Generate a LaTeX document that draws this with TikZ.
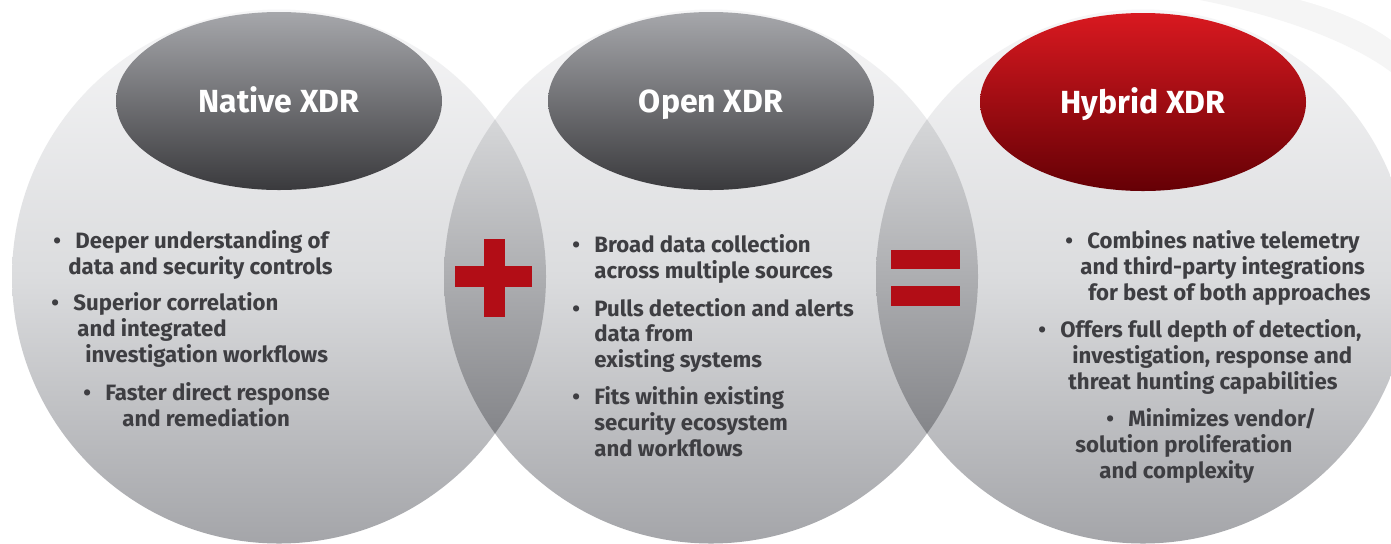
\documentclass[tikz,border=0pt]{standalone}
\usepackage{fontspec}
\setmainfont{Fira Sans}
\usetikzlibrary{shapes.geometric}

\definecolor{ringtop}{RGB}{246,246,247}
\definecolor{ringmid}{RGB}{219,220,222}
\definecolor{ringbot}{RGB}{164,165,169}
\definecolor{lenstop}{RGB}{214,215,217}
\definecolor{lensbot}{RGB}{132,133,137}
\definecolor{captop}{RGB}{166,167,171}
\definecolor{capbot}{RGB}{58,58,61}
\definecolor{hytop}{RGB}{217,25,32}
\definecolor{hybot}{RGB}{101,0,5}
\definecolor{signred}{RGB}{178,13,22}
\definecolor{txt}{RGB}{62,62,66}

\newcommand{\itembul}{\makebox[11pt][l]{•}}

\tikzset{
  ring/.style={top color=ringtop, bottom color=ringbot, middle color=ringmid},
  lens/.style={top color=lenstop, bottom color=lensbot},
  xdrcap/.style={ellipse, minimum width=163pt, minimum height=89pt, inner sep=0pt,
    text height=11.5pt, text depth=0.3pt,
    text=white, font=\bfseries\fontsize{16}{18}\selectfont},
  grey xdrcap/.style={xdrcap, top color=captop, bottom color=capbot},
  red xdrcap/.style={xdrcap, top color=hytop, bottom color=hybot},
  item/.style={anchor=base west, inner sep=0pt, text=txt,
    font=\bfseries\fontsize{11.1}{13}\selectfont},
  sign/.style={fill=signred}
}

\begin{document}
\begin{tikzpicture}[x=0.5pt,y=-0.5pt]
  \useasboundingbox (0,0) rectangle (1391,543);
  \fill[white] (0,0) rectangle (1391,543);
  \fill[gray!8] (1200,0) .. controls (1290,18) and (1355,45) .. (1391,72) -- (1391,0) -- cycle;
  \fill[white] (1300,0) .. controls (1345,12) and (1375,28) .. (1391,40) -- (1391,0) -- cycle;

  % the three rings
  \foreach \cx in {279,711,1143}
    \shade[ring] (\cx,276.5) circle (133.5pt);

  % overlaps
  \begin{scope}
    \clip (279,276.5) circle (133.5pt);
    \clip (711,276.5) circle (133.5pt);
    \shade[lens] (440,118) rectangle (550,435);
  \end{scope}
  \begin{scope}
    \clip (711,276.5) circle (133.5pt);
    \clip (1143,276.5) circle (133.5pt);
    \shade[lens] (872,118) rectangle (982,435);
  \end{scope}

  \node[grey xdrcap] (native) at (279,101) {Native XDR};
  \node[grey xdrcap] (open) at (711,101) {Open XDR};
  \node[red xdrcap] (hybrid) at (1143,102) {Hybrid XDR};

  % plus and equals
  \fill[sign] (484,239) rectangle (505,317);
  \fill[sign] (455,266) rectangle (532,287);
  \fill[sign] (891,250) rectangle (960,269);
  \fill[sign] (891,286) rectangle (960,306);

  \foreach \x/\y/\t [count=\i] in {
      53/248/{\itembul Deeper understanding of},
      68/274/{data and security controls},
      51/310/{\itembul Superior correlation},
      77/336/{and integrated},
      85/362/{investigation workflows},
      83/400/{\itembul Faster direct response},
      122/426/{and remediation}}
    \node[item] (nat\i) at (\x,\y) {\t};

  \foreach \x/\y/\t [count=\i] in {
      572/252/{\itembul Broad data collection},
      594/278/{across multiple sources},
      572/316/{\itembul Pulls detection and alerts},
      594/341/{data from},
      594/367/{existing systems},
      572/404/{\itembul Fits within existing},
      594/430/{security ecosystem},
      594/456/{and workflows}}
    \node[item] (opn\i) at (\x,\y) {\t};

  \foreach \x/\y/\t [count=\i] in {
      1065/248/{\itembul Combines native telemetry},
      1080/274/{and third-party integrations},
      1088/300/{for best of both approaches},
      1038/337/{\itembul Offers full depth of detection,},
      1072/363/{investigation, response and},
      1068/389/{threat hunting capabilities},
      1106/426/{\itembul Minimizes vendor/},
      1075/452/{solution proliferation},
      1099/478/{and complexity}}
    \node[item] (hyb\i) at (\x,\y) {\t};
\end{tikzpicture}
\end{document}
